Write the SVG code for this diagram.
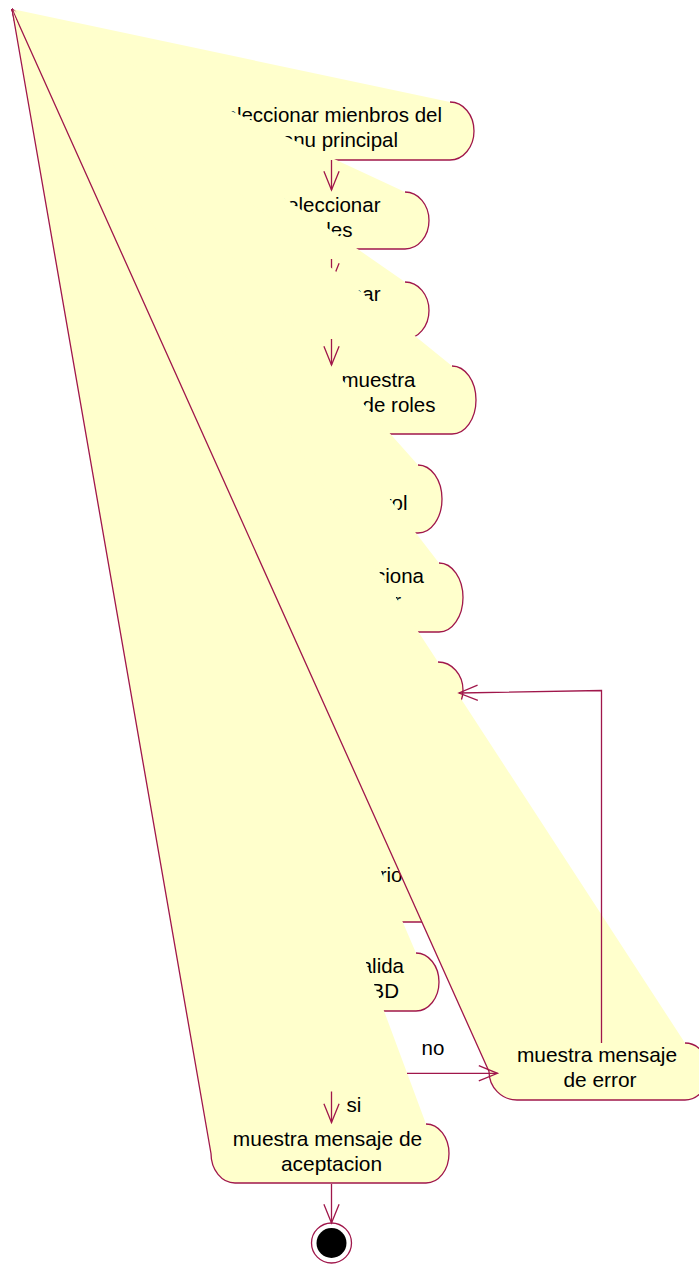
<svg xmlns="http://www.w3.org/2000/svg" width="699" height="1265" viewBox="0 0 699 1265">
<style>
.n{fill:#FFFFCC;stroke:#A0174B;stroke-width:1.3;stroke-linejoin:round}
.t{font-family:"Liberation Sans",Arial,sans-serif;font-size:20.5px;fill:#000}
.b{font-size:20.9px}
.e{text-anchor:end}
.m{text-anchor:middle}
.c{fill:none;stroke:#A0174B;stroke-width:1.3}
</style>
<defs>
<marker id="ah" markerUnits="userSpaceOnUse" viewBox="-20 -10 40 20" markerWidth="40" markerHeight="20" refX="0" refY="0" orient="auto" overflow="visible">
<path d="M-18.7,-7.6 L0,0 L-18.7,7.6" fill="none" stroke="#A0174B" stroke-width="1.3"/>
</marker>
<clipPath id="clip23"><polygon points="12,9 699,566 699,0 12,0"/></clipPath>
</defs>
<rect width="699" height="1265" fill="#fff"/>
<g id="node1">
<path class="n" d="M12 9 L186 131 A24 29 0 0 0 210 160 L450 160 A24 29 0 0 0 450 102"/>
<text class="t e" x="442" y="122">Seleccionar mienbros del</text>
<text class="t e" x="398" y="147">menu principal</text>
</g>
<g id="node2">
<path class="n" d="M12 9 L231 220.5 A24 28.5 0 0 0 255 249 L405 249 A24 28.5 0 0 0 405 192"/>
<text class="t e" x="380.5" y="212">Seleccionar</text>
<text class="t e" x="352.5" y="237">roles</text>
</g>
<g id="node3">
<path class="n" d="M12 9 L231 310.5 A24 28.5 0 0 0 255 339 L405 339 A24 28.5 0 0 0 405 282"/>
<text class="t e" x="380.5" y="301">Seleccionar</text>
</g>
<g id="node4">
<path class="n" d="M12 9 L184 400 A24 34 0 0 0 208 434 L452 434 A24 34 0 0 0 452 366"/>
<text class="t e" x="415.5" y="387">El sistema muestra</text>
<text class="t e" x="435.5" y="412">formulario de roles</text>
</g>
<g id="node5">
<path class="n" d="M12 9 L218 499 A24 34 0 0 0 242 533 L418 533 A24 34 0 0 0 418 465"/>
<text class="t e" x="407.5" y="510">rol</text>
</g>
<g id="node6">
<path class="n" d="M12 9 L197 597.5 A24 34.5 0 0 0 221 632 L439 632 A24 34.5 0 0 0 439 563"/>
<text class="t e" x="424" y="583">Selecciona</text>
<text class="t e" x="401" y="608">guardar</text>
</g>
<g id="node7">
<path class="n" d="M12 9 L198 690 A24 28 0 0 0 222 718 L438 718 A25 28 0 0 0 438 662"/>
</g>
<g id="node8">
<path class="n" d="M12 9 L206 892.5 A24 29.5 0 0 0 230 922 L430 922 A24 29.5 0 0 0 430 863"/>
<text class="t e" x="402.5" y="882">usuario</text>
</g>
<g id="node9">
<path class="n" d="M12 9 L220 982 A24 29 0 0 0 244 1011 L416 1011 A23 29 0 0 0 416 953"/>
<text class="t e" x="404" y="973">El sistema valida</text>
<text class="t e" x="399" y="998">en la BD</text>
</g>
<g id="node-error">
<path class="n" d="M12 9 L489 1071.5 A28 28.5 0 0 0 517 1100 L685 1100 A24 28.5 0 0 0 685 1043"/>
<text class="t b m" x="597" y="1062">muestra mensaje</text>
<text class="t b m" x="600" y="1087">de error</text>
</g>
<g id="node-aceptacion">
<path class="n" d="M12 9 L211 1153.5 A24 29.5 0 0 0 235 1183 L426 1183 A23 29.5 0 0 0 426 1124"/>
<text class="t b m" x="327.5" y="1146">muestra mensaje de</text>
<text class="t b m" x="331.5" y="1171">aceptacion</text>
</g>
<g id="final">
<circle cx="331.5" cy="1243" r="20" fill="#fff" stroke="#A0174B" stroke-width="1.3"/>
<circle cx="331.5" cy="1243" r="15" fill="#000"/>
</g>
<g id="connectors">
<path class="c" d="M331.5 160 L331.5 190" marker-end="url(#ah)"/>
<path class="c" d="M331.5 259 L331.5 282" marker-end="url(#ah)" clip-path="url(#clip23)"/>
<path class="c" d="M331.5 339 L331.5 365" marker-end="url(#ah)"/>
<path class="c" d="M601.5 1043 L601.5 690.5 L459 693" marker-end="url(#ah)"/>
<path class="c" d="M407 1073.3 L497.5 1073.3" marker-end="url(#ah)"/>
<text class="t" x="421.5" y="1055">no</text>
<path class="c" d="M331.5 1091.5 L331.5 1122.5" marker-end="url(#ah)"/>
<text class="t" x="346.5" y="1112">si</text>
<path class="c" d="M331.5 1184 L331.5 1223" marker-end="url(#ah)"/>
</g>
</svg>
